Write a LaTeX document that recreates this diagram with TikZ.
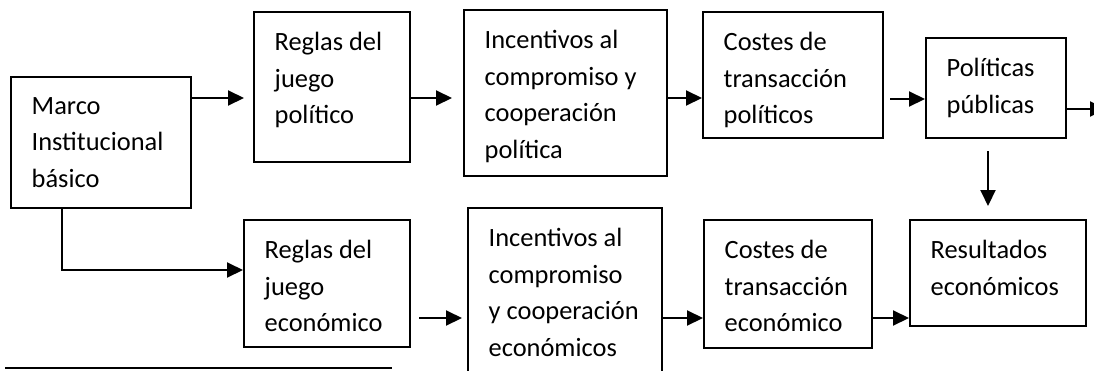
\documentclass[tikz,border=0pt]{standalone}
\usepackage{fontspec}
\setmainfont{Carlito}
\usepackage{tikz}
\usetikzlibrary{arrows.meta,positioning}

\tikzset{
    blk/.style={draw, line width=2pt, inner sep=0pt},
    blktext/.style={align=left, inner sep=0pt, font=\fontsize{26.4}{36.7}\selectfont, execute at begin node=\strut},
    arr/.style={line width=2pt, -{Triangle[length=16pt,width=15pt]}}
}

\begin{document}
\begin{tikzpicture}[x=1pt, y=-1pt]
    % Page area
    \clip (0,0) rectangle (1094,370);

    % Boxes - upper row
    \node[blk, minimum width=180pt, minimum height=131pt] (marco) at (101,142.5) {};
    \node[blk, minimum width=156pt, minimum height=150pt] (rpol) at (332,87) {};
    \node[blk, minimum width=203pt, minimum height=166pt] (ipol) at (565.5,93) {};
    \node[blk, minimum width=180pt, minimum height=126pt] (cpol) at (793,75) {};
    \node[blk, minimum width=140pt, minimum height=100pt] (ppub) at (996,88) {};

    % Boxes - lower row
    \node[blk, minimum width=166pt, minimum height=127pt] (reco) at (327,283.5) {};
    \node[blk, minimum width=194pt, minimum height=177pt] (ieco) at (565,296.5) {};
    \node[blk, minimum width=168pt, minimum height=128pt] (ceco) at (788,284) {};
    \node[blk, minimum width=176pt, minimum height=106pt] (res) at (998,273) {};

    % Texts
    \node[blktext, below right=21pt and 21.5pt of marco.north west] (marcot) {Marco\\Institucional\\básico};
    \node[blktext, below right=21pt and 21.5pt of rpol.north west] (rpolt) {Reglas del\\juego\\político};
    \node[blktext, below right=21pt and 21.5pt of ipol.north west] (ipolt) {Incentivos al\\compromiso y\\cooperación\\política};
    \node[blktext, below right=21pt and 21.5pt of cpol.north west] (cpolt) {Costes de\\transacción\\políticos};
    \node[blktext, below right=21pt and 21.5pt of ppub.north west] (ppubt) {Políticas\\públicas};
    \node[blktext, below right=21pt and 21.5pt of reco.north west] (recot) {Reglas del\\juego\\económico};
    \node[blktext, below right=21pt and 21.5pt of ieco.north west] (iecot) {Incentivos al\\compromiso\\y cooperación\\económicos};
    \node[blktext, below right=21pt and 21.5pt of ceco.north west] (cecot) {Costes de\\transacción\\económico};
    \node[blktext, below right=21pt and 21.5pt of res.north west] (rest) {Resultados\\económicos};

    % Arrows - upper row
    \draw[arr, shorten >=9pt] (marco.east |- 0,98) -- (rpol.west |- 0,98);
    \draw[arr, shorten >=11pt] (rpol.east |- 0,98) -- (ipol.west |- 0,98);
    \draw[arr] (ipol.east |- 0,98) -- (cpol.west |- 0,98);
    \draw[arr, shorten <=6pt] (cpol.east |- 0,99) -- (ppub.west |- 0,99);
    \coordinate (out) at (1106,109);
    \draw[arr] (ppub.east |- out) -- (out);
    \draw[arr, shorten <=12pt, shorten >=13pt] (ppub.south -| 988,0) -- (res.north -| 988,0);

    % Arrows - lower row
    \draw[arr] (marco.south -| 62,0) |- (reco.west |- 0,270);
    \draw[arr, shorten <=8pt, shorten >=5pt] (reco.east |- 0,318) -- (ieco.west |- 0,318);
    \draw[arr] (ieco.east |- 0,318) -- (ceco.west |- 0,318);
    \draw[arr] (ceco.east |- 0,318) -- (res.west |- 0,318);

    % Footnote rule
    \draw[line width=2.4pt] (5,368) -- (392,368);
\end{tikzpicture}
\end{document}
